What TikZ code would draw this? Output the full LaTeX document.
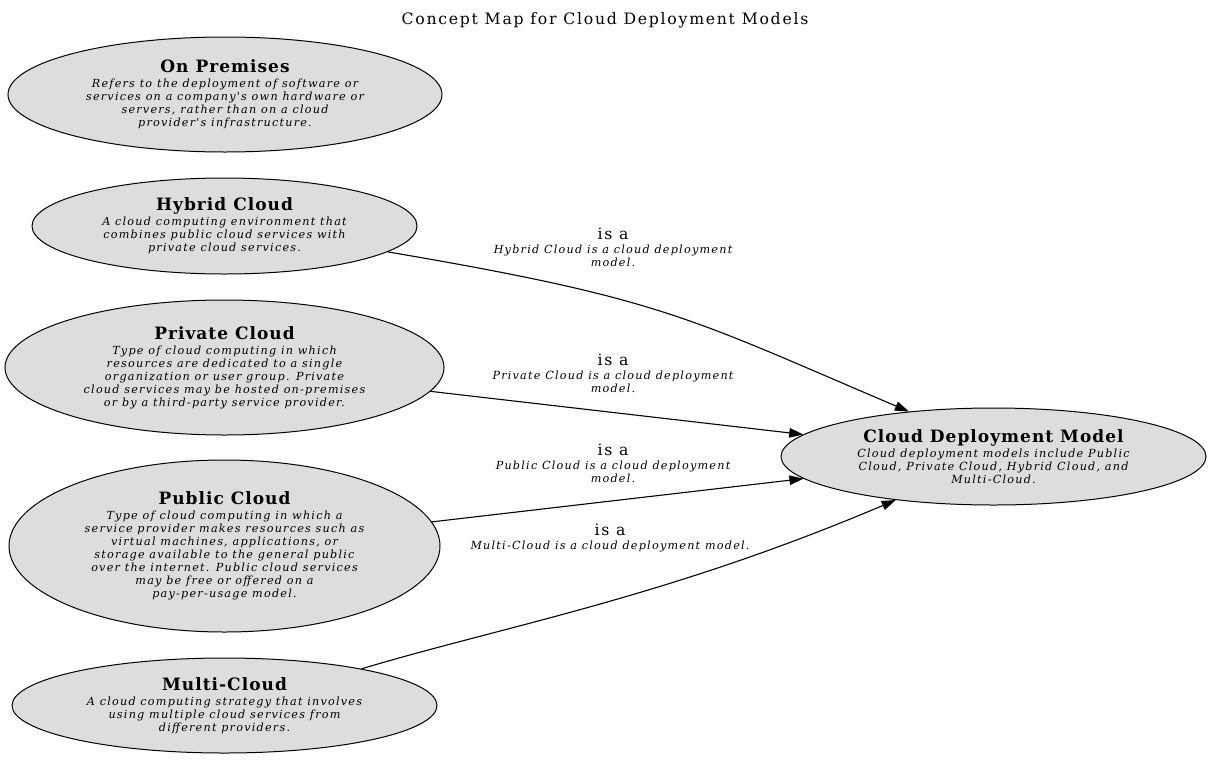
\documentclass[tikz,border=0pt]{standalone}
\usepackage{fontspec}
\setmainfont{DejaVu Serif}[Ligatures=TeXOff]
\newfontfamily\plainfont{DejaVu Serif}[Ligatures=TeXOff,LetterSpace=11]
\newfontfamily\headfont{DejaVu Serif}[Ligatures=TeXOff,LetterSpace=6]
\newfontfamily\descfont{DejaVu Serif}[Ligatures=TeXOff,LetterSpace=11]
\usetikzlibrary{shapes.geometric,arrows.meta}
\definecolor{nodefill}{HTML}{DDDDDD}
\tikzset{
  concept/.style={ellipse, draw, fill=nodefill, line width=1pt, inner sep=0pt,
    align=center, font=\descfont\fontsize{11.2}{13}\selectfont\itshape},
  edge/.style={line width=1.1pt, -{Triangle[length=14pt,width=9.5pt]}},
  elabel/.style={align=center, inner sep=0pt, font=\descfont\fontsize{11.2}{13}\selectfont\itshape},
  maptitle/.style={font=\plainfont\fontsize{15.7}{18}\selectfont, inner sep=0pt}
}
\newcommand\ctitle[1]{{\headfont\fontsize{17}{17}\selectfont\bfseries\upshape #1}\\[2pt]}
\newcommand\isa{{\plainfont\fontsize{15.7}{16}\selectfont\upshape is a}\\[1pt]}
\begin{document}
\begin{tikzpicture}[x=1pt,y=-1pt]
\useasboundingbox (0,0) rectangle (1212,761);
\node[maptitle] (title) at (605,20) {Concept Map for Cloud Deployment Models};

\node[concept, minimum width=434pt, minimum height=115pt] (op) at (225,94.5)
  {\ctitle{On Premises}Refers to the deployment of software or\\services on a company's own hardware or\\servers, rather than on a cloud\\provider's infrastructure.};
\node[concept, minimum width=385pt, minimum height=96pt] (hy) at (224.5,226)
  {\ctitle{Hybrid Cloud}A cloud computing environment that\\combines public cloud services with\\private cloud services.};
\node[concept, minimum width=439pt, minimum height=135pt] (pr) at (224.5,367.5)
  {\ctitle{Private Cloud}Type of cloud computing in which\\resources are dedicated to a single\\organization or user group. Private\\cloud services may be hosted on-premises\\or by a third-party service provider.};
\node[concept, minimum width=431pt, minimum height=172pt] (pu) at (224.5,546)
  {\ctitle{Public Cloud}Type of cloud computing in which a\\service provider makes resources such as\\virtual machines, applications, or\\storage available to the general public\\over the internet. Public cloud services\\may be free or offered on a\\pay-per-usage model.};
\node[concept, minimum width=425pt, minimum height=95pt] (mc) at (224.5,705.5)
  {\ctitle{Multi-Cloud}A cloud computing strategy that involves\\using multiple cloud services from\\different providers.};
\node[concept, minimum width=425pt, minimum height=97pt] (cdm) at (993.5,456.5)
  {\ctitle{Cloud Deployment Model}Cloud deployment models include Public\\Cloud, Private Cloud, Hybrid Cloud, and\\Multi-Cloud.};

\draw[edge] (hy.-9.5) .. controls +(276,47) and +(-221,-94) .. (cdm.152);
\draw[edge] (pr) -- (cdm);
\draw[edge] (pu) -- (cdm);
\draw[edge] (mc.15.3) .. controls +(144,-43) and +(-230,97.5) .. (cdm.204.3);

\node[elabel] (l1) at (613,247) {\isa Hybrid Cloud is a cloud deployment\\model.};
\node[elabel] (l2) at (613,373) {\isa Private Cloud is a cloud deployment\\model.};
\node[elabel] (l3) at (613,463) {\isa Public Cloud is a cloud deployment\\model.};
\node[elabel] (l4) at (610,538) {\isa Multi-Cloud is a cloud deployment model.};
\end{tikzpicture}
\end{document}
